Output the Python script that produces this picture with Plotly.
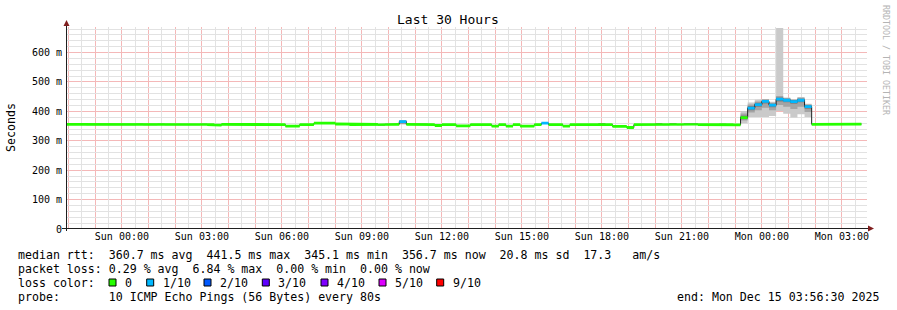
import pandas as pd
import plotly.graph_objects as go

# ---------------- data ----------------
BIN_MINUTES = 16
first_bin_start = "2025-12-13 21:52:00"
view_start = "2025-12-13 21:56:30"
view_end = "2025-12-15 03:56:30"

# median rtt per 16-minute bin (ms)
median_ms = [
    356, 356, 356, 355, 355, 355, 355, 355, 355, 355,   # 0-9
    356, 355, 355, 356, 355, 355, 355, 355, 355, 356,   # 10-19
    355, 353, 356, 355, 355, 355, 356, 356, 355, 355,   # 20-29
    355, 350, 350, 355, 355, 360, 360, 360, 357, 357,   # 30-39
    355, 356, 356, 356, 354, 356, 356, 365, 356, 356,   # 40-49
    356, 355, 352, 355, 355, 351, 351, 355, 355, 355,   # 50-59
    350, 355, 350, 355, 350, 350, 355, 360, 355, 355,   # 60-69
    350, 355, 355, 355, 355, 357, 355, 349, 349, 345.1, # 70-79
    355, 355, 355, 357, 355, 357, 355, 357, 357, 355,   # 80-89
    355, 355, 356, 355, 354, 379, 411, 423, 434, 421,   # 90-99
    441.5, 438, 433, 438, 416, 356, 356, 356, 356, 356, # 100-109
    356, 356.7,                                         # 110-111
]

# packet loss per bin (%)
loss_pct = [
    0, 0, 0, 0, 0, 0, 0, 0, 0, 0,
    0, 0, 0, 0, 0, 0, 0, 0, 0, 0,
    0, 0, 0, 0, 0, 0, 0, 0, 0, 0,
    0, 0, 0, 0, 0, 0, 0, 0, 0, 0,
    0, 0, 0, 0, 0, 0, 0, 2.1, 0, 0,
    0, 0, 0, 0, 0, 0, 0, 0, 0, 0,
    0, 0, 0, 0, 0, 0, 0, 1.8, 0, 0,
    0, 0, 0, 0, 0, 0, 0, 0, 0, 0,
    0, 0, 0, 0, 0, 0, 0, 0, 0, 0,
    0, 0, 0, 0, 0, 0, 2.5, 3.0, 2.8, 3.3,
    6.84, 3.1, 2.2, 2.9, 2.6, 0, 0, 0, 0, 0,
    0, 0,
]

# sorted ping percentiles (smoke) for bins where the smoke is visible
smoke_bins = [47, 95, 96, 97, 98, 99, 100, 101, 102, 103, 104]
p1 = [355, 360, 381, 381, 381, 384, 401, 392, 379, 390, 381]
p2 = [357, 369, 396, 404, 412, 404, 422, 416, 408, 416, 398]
p3 = [360, 373, 404, 416, 427, 414, 434, 431, 426, 431, 409]
p4 = [362, 376, 408, 420, 431, 418, 438, 435, 430, 435, 413]
p5 = [364, 378, 410, 422, 433, 420, 440, 437, 432, 437, 415]
p6 = [366, 380, 412, 424, 435, 422, 443, 439, 434, 439, 417]
p7 = [367, 382, 414, 426, 437, 424, 445, 441, 436, 441, 419]
p8 = [368, 386, 418, 429, 439, 426, 447, 443, 438, 443, 421]
p9 = [369, 393, 423, 434, 441, 429, 452, 445, 440, 446, 423]
p10 = [370, 401, 430, 440, 442, 433, 684, 447, 442, 449, 426]

loss_labels = ["0", "1/10", "2/10", "3/10", "4/10", "5/10", "9/10"]
loss_limits = [0, 1, 2, 3, 4, 5, 10]          # pings lost (out of 10)
loss_colors = ["#26ff00", "#00b8ff", "#0059ff", "#5e00ff", "#7e00ff", "#dd00ff", "#ff0000"]
smoke_colors = ["#cacaca", "#a4a4a4", "#7e7e7e", "#585858", "#323232"]

y_ticks = [0, 100, 200, 300, 400, 500, 600]
y_tick_text = ["0", "100 m", "200 m", "300 m", "400 m", "500 m", "600 m"]

stats_line1 = "median rtt:  360.7 ms avg  441.5 ms max  345.1 ms min  356.7 ms now  20.8 ms sd  17.3   am/s"
stats_line2 = "packet loss: 0.29 % avg  6.84 % max  0.00 % min  0.00 % now"
probe_line = "probe:       10 ICMP Echo Pings (56 Bytes) every 80s"
end_line = "end: Mon Dec 15 03:56:30 2025"

# ---------------- geometry helpers ----------------
W, H = 897, 310
L, T, PW, PH = 67, 27, 800, 202
Y_MAX = 687
BAND = 4.8  # half height of loss-coloured band (ms)


def px(x):
    return (x - L) / PW


def py(y):
    return (T + PH - y) / PH


bin_start = pd.date_range(first_bin_start, periods=len(median_ms), freq=f"{BIN_MINUTES}min")
bin_end = bin_start + pd.Timedelta(minutes=BIN_MINUTES)


def step_polygons(indices, lo, hi):
    xs, ys = [], []
    runs = []
    for k, i in enumerate(indices):
        if runs and runs[-1][-1][0] == i - 1:
            runs[-1].append((i, lo[k], hi[k]))
        else:
            runs.append([(i, lo[k], hi[k])])
    for run in runs:
        top_x, top_y, bot_x, bot_y = [], [], [], []
        for i, l, h in run:
            top_x += [bin_start[i], bin_end[i]]
            top_y += [h, h]
            bot_x += [bin_start[i], bin_end[i]]
            bot_y += [l, l]
        xs += top_x + bot_x[::-1] + [top_x[0], None]
        ys += top_y + bot_y[::-1] + [top_y[0], None]
    return xs, ys


fig = go.Figure()

# helper trace that makes the overlay (minor-grid) axes render; draws nothing
fig.add_trace(go.Scatter(x=[view_start], y=[0], xaxis="x2", yaxis="y2", mode="lines",
                         line=dict(width=0), hoverinfo="skip"))

# smoke
pairs = [(p1, p10), (p2, p9), (p3, p8), (p4, p7), (p5, p6)]
for (lo, hi), col in zip(pairs, smoke_colors):
    xs, ys = step_polygons(smoke_bins, lo, hi)
    fig.add_trace(go.Scatter(x=xs, y=ys, mode="lines", fill="toself", fillcolor=col,
                             line=dict(width=0), hoverinfo="skip"))

# median line
fig.add_trace(go.Scatter(x=list(bin_start) + [bin_end[-1]], y=median_ms + [median_ms[-1]],
                         mode="lines", line=dict(color="#202020", width=1, shape="hv"),
                         hoverinfo="skip"))


def loss_level(p):
    lost = p / 10.0
    if lost == 0:
        return 0
    for j in range(1, len(loss_limits)):
        if lost <= loss_limits[j]:
            return j
    return len(loss_limits) - 1


levels = [loss_level(p) for p in loss_pct]
for j, col in enumerate(loss_colors):
    idx = [i for i, lv in enumerate(levels) if lv == j]
    if not idx:
        continue
    xs, ys = step_polygons(idx, [median_ms[i] - BAND for i in idx], [median_ms[i] + BAND for i in idx])
    fig.add_trace(go.Scatter(x=xs, y=ys, mode="lines", fill="toself", fillcolor=col,
                             line=dict(width=0), hoverinfo="skip"))

# ---------------- axes ----------------
hours = pd.date_range("2025-12-13 22:00", "2025-12-15 03:00", freq="1h")
hour_text = [h.strftime("%a %H:%M") if h.hour % 3 == 0 else "" for h in hours]
half_hours = pd.date_range("2025-12-13 22:30", "2025-12-15 03:30", freq="1h")
minor_y = [v for v in range(20, Y_MAX, 20) if v % 100]

MAJOR = "#f4b8b8"
MINOR = "#e2e2e2"
TICKFONT = dict(family="DejaVu Sans Mono", size=10, color="#000")

fig.update_layout(
    xaxis=dict(type="date", range=[view_start, view_end], tickmode="array",
               tickvals=list(hours), ticktext=hour_text, showgrid=True,
               gridcolor=MAJOR, gridwidth=1,
               showline=False, zeroline=False, ticks="", tickfont=TICKFONT),
    yaxis=dict(range=[0, Y_MAX], tickmode="array", tickvals=y_ticks, ticktext=y_tick_text,
               showgrid=True, gridcolor=MAJOR, gridwidth=1,
               showline=False, zeroline=False, ticks="", ticklabelstandoff=4, tickfont=TICKFONT),
    xaxis2=dict(type="date", overlaying="x", range=[view_start, view_end], tickmode="array",
                tickvals=list(half_hours), showticklabels=False, showgrid=True,
                gridcolor=MINOR, gridwidth=1,
                showline=False, zeroline=False, ticks=""),
    yaxis2=dict(overlaying="y", range=[0, Y_MAX], tickmode="array", tickvals=minor_y,
                showticklabels=False, showgrid=True, gridcolor=MINOR,
                gridwidth=1, showline=False, zeroline=False, ticks=""),
)

shapes = []
AX = "#1f1f1f"
ARROW = "#801f1f"
# axis lines
shapes.append(dict(type="line", xref="paper", yref="paper", x0=px(62), x1=px(869),
                   y0=py(228.5), y1=py(228.5), line=dict(color=AX, width=1)))
shapes.append(dict(type="line", xref="paper", yref="paper", x0=px(66.5), x1=px(66.5),
                   y0=py(231), y1=py(23), line=dict(color=AX, width=1)))
# arrows
shapes.append(dict(type="path", xref="paper", yref="paper",
                   path=f"M {px(868)},{py(225.5)} L {px(874)},{py(228.5)} L {px(868)},{py(231.5)} Z",
                   fillcolor=ARROW, line=dict(color=ARROW, width=0)))
shapes.append(dict(type="path", xref="paper", yref="paper",
                   path=f"M {px(63.5)},{py(26)} L {px(66.5)},{py(20)} L {px(69.5)},{py(26)} Z",
                   fillcolor=ARROW, line=dict(color=ARROW, width=0)))

NB = "\u00a0"
LEG_FONT = dict(family="DejaVu Sans Mono", size=11.6, color="#000")
ann = []


def text(x, y, s, font=LEG_FONT, xanchor="left", **kw):
    ann.append(dict(x=px(x), y=py(y), xref="paper", yref="paper", text=s.replace(" ", NB),
                    showarrow=False, xanchor=xanchor, yanchor="middle", font=font, **kw))


text(448, 19.5, "Last 30 Hours", font=dict(family="DejaVu Sans Mono", size=13, color="#000"),
     xanchor="center")
text(11, 127, "Seconds", font=dict(family="DejaVu Sans Mono", size=11.6, color="#000"),
     xanchor="center", textangle=-90)
text(886, 60, "RRDTOOL / TOBI OETIKER", font=dict(family="DejaVu Sans Mono", size=8.3, color="#b4b4b4"),
     xanchor="center", textangle=90)
text(16, 255, stats_line1)
text(16, 268.5, stats_line2)
text(16, 282.5, "loss color:")
box_x = [109, 146.7, 204, 262.3, 321, 379, 436.7]
for bx, lab, col in zip(box_x, loss_labels, loss_colors):
    shapes.append(dict(type="rect", xref="paper", yref="paper", x0=px(bx), x1=px(bx + 7),
                       y0=py(286), y1=py(279), fillcolor=col, line=dict(color="#000", width=1)))
    text(bx + 14, 282.5, lab)
text(16, 296.5, probe_line)
text(881, 296.5, end_line, xanchor="right")

fig.update_layout(width=W, height=H, margin=dict(l=L, r=W - L - PW, t=T, b=H - T - PH),
                  paper_bgcolor="white", plot_bgcolor="white", showlegend=False,
                  shapes=shapes, annotations=ann,
                  font=dict(family="DejaVu Sans Mono", size=10, color="#000"))

fig.write_html("out.html")
